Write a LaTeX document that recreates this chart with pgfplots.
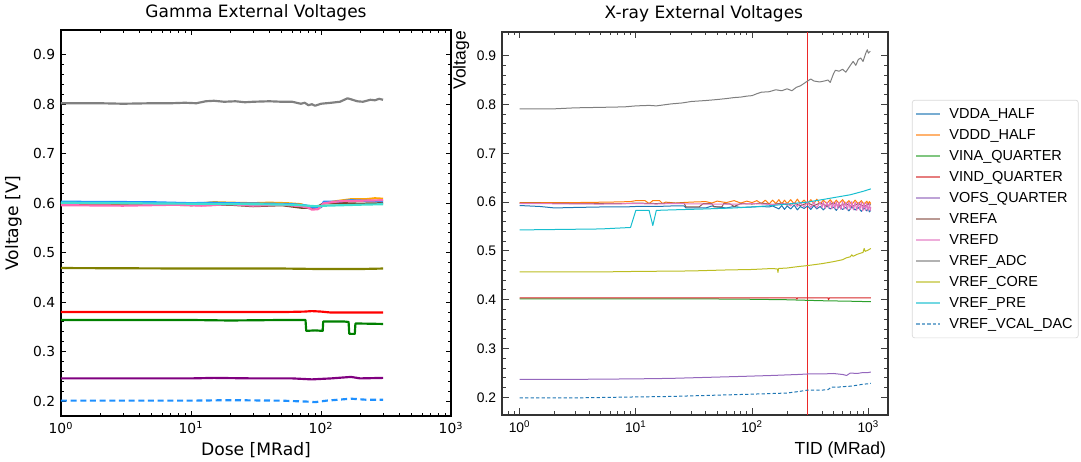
\documentclass[border=0pt]{standalone}
\usepackage{pgfplots}
\pgfplotsset{compat=1.18}
\usepackage{fontspec}
\setmainfont{DejaVu Sans}
\newfontfamily\lib{Liberation Sans}

% gamma colours
\definecolor{gGray}{RGB}{128,128,128}
\definecolor{gBlue}{RGB}{30,144,255}
\definecolor{gOrange}{RGB}{255,165,0}
\definecolor{gGreen}{RGB}{0,128,0}
\definecolor{gRed}{RGB}{255,0,0}
\definecolor{gPurple}{RGB}{128,0,128}
\definecolor{gBrown}{RGB}{120,70,40}
\definecolor{gPink}{RGB}{255,105,180}
\definecolor{gOlive}{RGB}{128,128,0}
\definecolor{gTurq}{RGB}{64,224,208}
% tab10
\definecolor{tBlue}{HTML}{1F77B4}
\definecolor{tOrange}{HTML}{FF7F0E}
\definecolor{tGreen}{HTML}{2CA02C}
\definecolor{tRed}{HTML}{D62728}
\definecolor{tPurple}{HTML}{9467BD}
\definecolor{tBrown}{HTML}{8C564B}
\definecolor{tPink}{HTML}{E377C2}
\definecolor{tGray}{HTML}{7F7F7F}
\definecolor{tOlive}{HTML}{BCBD22}
\definecolor{tCyan}{HTML}{17BECF}
\definecolor{refRed}{RGB}{235,40,40}

\begin{document}
\begin{tikzpicture}
\useasboundingbox (0,0) rectangle (648.6pt,276.6pt);

% ---------------- Gamma ----------------
\begin{axis}[
  at={(36.6pt,27pt)}, anchor=south west,
  scale only axis, width=234pt, height=231.6pt,
  xmode=log, xmin=1, xmax=1000, ymin=0.17, ymax=0.95,
  xtick={1,10,100,1000},
  xticklabels={10\textsuperscript{0},10\textsuperscript{1},10\textsuperscript{2},10\textsuperscript{3}},
  minor xtick={2,3,4,5,6,7,8,9,20,30,40,50,60,70,80,90,200,300,400,500,600,700,800,900},
  ytick={0.2,0.3,0.4,0.5,0.6,0.7,0.8,0.9},
  yticklabels={0.2,0.3,0.4,0.5,0.6,0.7,0.8,0.9},
  minor y tick num=4,
  tick align=inside,
  major tick length=3.2pt, minor tick length=1.8pt,
  every tick/.style={black, line width=0.6pt},
  axis line style={black, line width=0.9pt},
  tick label style={font=\fontsize{8.3}{10}\selectfont},
  label style={font=\fontsize{10.3}{12}\selectfont},
  title={Gamma External Voltages},
  title style={font=\fontsize{10.2}{12}\selectfont, at={(0.5,1)}, anchor=south, inner sep=0pt, yshift=-0.8pt},
  xlabel={Dose [MRad]},
  ylabel={Voltage [V]},
  xlabel style={yshift=2pt},
  every axis plot/.append style={line width=1.3pt, line join=round},
]
\addplot[gGray] coordinates {(1,0.802)(2,0.802)(3,0.801)(5,0.802)(7,0.802)(9,0.803)(11,0.802)(13,0.806)(15,0.807)(18,0.805)(22,0.806)(26,0.804)(30,0.805)(40,0.806)(50,0.805)(60,0.805)(70,0.801)(75,0.803)(80,0.798)(85,0.800)(90,0.797)(100,0.801)(120,0.803)(140,0.805)(160,0.812)(170,0.810)(190,0.806)(210,0.805)(240,0.809)(260,0.808)(280,0.811)(300,0.809)};
\addplot[gBrown] coordinates {(1,0.598)(5,0.598)(10,0.596)(20,0.597)(30,0.594)(50,0.596)(70,0.591)(90,0.590)(105,0.600)(150,0.600)(200,0.599)(300,0.600)};
\addplot[gOrange] coordinates {(1,0.600)(5,0.600)(10,0.598)(15,0.602)(20,0.601)(30,0.600)(40,0.601)(55,0.600)(70,0.598)(80,0.593)(100,0.592)(105,0.600)(130,0.604)(170,0.608)(220,0.608)(260,0.610)(300,0.609)};
\addplot[gBlue] coordinates {(1,0.603)(5,0.602)(10,0.600)(15,0.601)(20,0.600)(40,0.599)(60,0.598)(75,0.596)(90,0.591)(100,0.592)(105,0.603)(130,0.603)(170,0.606)(220,0.605)(300,0.604)};
\addplot[gPink] coordinates {(1,0.596)(3,0.595)(8,0.597)(12,0.595)(20,0.598)(30,0.595)(50,0.597)(70,0.594)(80,0.591)(85,0.587)(95,0.588)(105,0.600)(140,0.604)(200,0.605)(300,0.606)};
\addplot[gTurq] coordinates {(1,0.601)(10,0.599)(30,0.598)(60,0.597)(90,0.594)(110,0.595)(200,0.597)(300,0.598)};
\addplot[gOlive] coordinates {(1,0.469)(10,0.468)(50,0.468)(100,0.467)(200,0.467)(300,0.468)};
\addplot[gRed] coordinates {(1,0.380)(10,0.380)(50,0.380)(75,0.381)(85,0.382)(100,0.381)(120,0.379)(200,0.379)(300,0.379)};
\addplot[gGreen] coordinates {(1,0.364)(10,0.364)(20,0.363)(50,0.364)(76,0.364)(77,0.342)(90,0.343)(103,0.342)(104,0.361)(150,0.361)(163,0.360)(165,0.336)(182,0.336)(184,0.357)(300,0.356)};
\addplot[gPurple] coordinates {(1,0.246)(10,0.246)(15,0.247)(30,0.246)(60,0.246)(85,0.244)(120,0.246)(170,0.249)(200,0.246)(300,0.247)};
\addplot[gBlue, dash pattern=on 3.6pt off 2.2pt] coordinates {(1,0.201)(10,0.201)(20,0.202)(50,0.201)(80,0.199)(90,0.198)(110,0.201)(170,0.205)(220,0.203)(300,0.203)};
\end{axis}

% ---------------- X-ray ----------------
\begin{axis}[
  at={(301.2pt,27.6pt)}, anchor=south west,
  scale only axis, width=231.6pt, height=230pt,
  xmode=log, xmin=0.706, xmax=1476, ymin=0.164, ymax=0.949,
  xtick={1,10,100,1000},
  xticklabels={10\textsuperscript{0},10\textsuperscript{1},10\textsuperscript{2},10\textsuperscript{3}},
  minor xtick={0.8,0.9,2,3,4,5,6,7,8,9,20,30,40,50,60,70,80,90,200,400,500,600,700,800,900},
  extra x ticks={300},
  extra x tick labels={},
  extra x tick style={grid=major, major grid style={draw=refRed, line width=0.85pt}, major tick length=0pt},
  ytick={0.2,0.3,0.4,0.5,0.6,0.7,0.8,0.9},
  yticklabels={0.2,0.3,0.4,0.5,0.6,0.7,0.8,0.9},
  minor y tick num=4,
  tick align=inside,
  major tick length=4pt, minor tick length=2.2pt,
  every tick/.style={black!75, line width=0.6pt},
  axis line style={black!80, line width=1.1pt},
  tick label style={font=\lib\fontsize{8.3}{10}\selectfont},
  label style={font=\lib\fontsize{10.5}{12}\selectfont},
  title={X-ray External Voltages},
  title style={font=\fontsize{10.2}{12}\selectfont, at={(0.523,1)}, anchor=south, inner sep=0pt, yshift=-0.6pt},
  xlabel={TID (MRad)},
  ylabel={Voltage},
  xlabel style={at={(ticklabel cs:1)}, anchor=north east, inner sep=1pt, yshift=-1pt},
  ylabel style={at={(ticklabel cs:1)}, anchor=south east, inner sep=1pt, xshift=1.5pt},
  every axis plot/.append style={line width=0.6pt, line join=round},
  legend cell align=left,
  legend image code/.code={\draw[#1, opacity=0.6, line width=1pt] (0pt,0pt) -- (14pt,0pt);},
  legend style={at={(axis description cs:1.062,0.822)}, anchor=north west,
    font=\lib\fontsize{8.7}{10}\selectfont, draw=black!15, rounded corners=1.5pt,
    inner xsep=2pt, inner ysep=2pt,
    nodes={inner sep=1.3pt, text height=7.6pt, text depth=2.4pt},
    /tikz/every odd column/.append style={column sep=4pt}},
]
\addplot[tBlue] coordinates {(1,0.593)(1.5,0.591)(2,0.588)(3,0.589)(5,0.590)(8,0.590)(10,0.591)(15,0.591)(20,0.592)(26,0.592)(27,0.588)(40,0.588)(45,0.592)(50,0.590)(60,0.588)(70,0.591)(80,0.589)(100,0.590)(120,0.591)(140,0.590)(150,0.592)(160,0.589)(170,0.586)(180,0.593)(190,0.585)(200,0.592)(215,0.586)(230,0.594)(245,0.584)(260,0.591)(280,0.587)(300,0.592)(320,0.585)(340,0.593)(360,0.586)(385,0.591)(410,0.584)(440,0.592)(470,0.586)(500,0.590)(530,0.583)(560,0.591)(600,0.585)(640,0.589)(680,0.582)(720,0.590)(770,0.584)(820,0.589)(870,0.581)(920,0.588)(970,0.582)(1000,0.587)(1020,0.580)(1050,0.583)};
\addlegendentry{VDDA\_HALF}
\addplot[tOrange] coordinates {(1,0.599)(3,0.599)(6,0.600)(9,0.601)(10,0.603)(12,0.603)(13,0.597)(14,0.603)(16,0.603)(17,0.597)(18,0.600)(22,0.598)(25,0.599)(30,0.600)(40,0.601)(45,0.598)(50,0.602)(60,0.599)(70,0.603)(80,0.598)(90,0.602)(100,0.599)(110,0.603)(120,0.597)(130,0.604)(140,0.596)(150,0.604)(160,0.597)(170,0.605)(180,0.596)(190,0.604)(200,0.597)(215,0.605)(230,0.596)(245,0.606)(260,0.597)(280,0.604)(300,0.596)(320,0.605)(340,0.597)(360,0.606)(385,0.596)(410,0.604)(440,0.597)(470,0.605)(500,0.596)(530,0.604)(560,0.597)(600,0.605)(640,0.596)(680,0.603)(720,0.595)(770,0.604)(820,0.596)(870,0.603)(920,0.595)(970,0.602)(1000,0.596)(1020,0.601)(1050,0.597)};
\addlegendentry{VDDD\_HALF}
\addplot[tGreen] coordinates {(1,0.402)(30,0.402)(100,0.401)(200,0.400)(400,0.398)(700,0.397)(1050,0.396)};
\addlegendentry{VINA\_QUARTER}
\addplot[tRed] coordinates {(1,0.404)(100,0.404)(240,0.404)(243,0.401)(246,0.404)(450,0.404)(455,0.400)(462,0.404)(1050,0.404)};
\addlegendentry{VIND\_QUARTER}
\addplot[tPurple] coordinates {(1,0.237)(3,0.237)(10,0.238)(20,0.239)(40,0.241)(80,0.243)(150,0.245)(250,0.247)(300,0.248)(400,0.248)(500,0.249)(600,0.247)(650,0.245)(700,0.250)(800,0.249)(900,0.251)(1000,0.251)(1050,0.252)};
\addlegendentry{VOFS\_QUARTER}
\addplot[tBrown] coordinates {(1,0.598)(3,0.597)(8,0.597)(10,0.598)(15,0.597)(20,0.598)(26,0.598)(27,0.590)(35,0.590)(38,0.597)(45,0.597)(47,0.590)(55,0.590)(57,0.597)(65,0.596)(70,0.591)(80,0.597)(100,0.596)(120,0.598)(150,0.595)(180,0.598)(200,0.594)(230,0.598)(260,0.593)(300,0.598)(340,0.593)(385,0.598)(440,0.592)(500,0.598)(560,0.592)(640,0.597)(720,0.591)(820,0.597)(920,0.591)(1000,0.596)(1050,0.594)};
\addlegendentry{VREFA}
\addplot[tPink] coordinates {(1,0.597)(5,0.596)(10,0.597)(15,0.596)(20,0.597)(40,0.596)(80,0.596)(100,0.597)(150,0.595)(200,0.597)(215,0.592)(230,0.599)(245,0.591)(260,0.599)(280,0.590)(300,0.600)(320,0.589)(340,0.600)(360,0.588)(385,0.600)(400,0.589)(410,0.601)(425,0.587)(440,0.600)(455,0.588)(470,0.601)(485,0.586)(500,0.600)(515,0.587)(530,0.601)(545,0.586)(560,0.600)(580,0.585)(600,0.601)(620,0.586)(640,0.600)(660,0.584)(680,0.600)(700,0.585)(720,0.601)(745,0.584)(770,0.600)(795,0.583)(820,0.599)(845,0.584)(870,0.600)(895,0.582)(920,0.599)(945,0.583)(970,0.598)(995,0.582)(1020,0.597)(1040,0.583)(1050,0.590)};
\addlegendentry{VREFD}
\addplot[tGray] coordinates {(1,0.791)(2,0.791)(3,0.793)(5,0.794)(8,0.795)(10,0.797)(13,0.798)(15,0.797)(20,0.801)(25,0.803)(30,0.806)(40,0.808)(50,0.810)(60,0.812)(70,0.814)(80,0.815)(90,0.817)(100,0.818)(110,0.822)(120,0.825)(140,0.826)(160,0.830)(180,0.828)(200,0.832)(220,0.828)(240,0.835)(260,0.838)(280,0.843)(300,0.848)(320,0.852)(340,0.848)(380,0.846)(420,0.848)(450,0.850)(470,0.845)(500,0.862)(520,0.870)(560,0.868)(600,0.872)(640,0.866)(700,0.880)(740,0.888)(780,0.880)(820,0.892)(860,0.895)(900,0.888)(950,0.905)(980,0.912)(1000,0.905)(1040,0.909)};
\addlegendentry{VREF\_ADC}
\addplot[tOlive] coordinates {(1,0.457)(5,0.457)(10,0.458)(30,0.459)(60,0.461)(100,0.462)(150,0.464)(165,0.463)(167,0.456)(169,0.464)(200,0.465)(250,0.468)(300,0.470)(400,0.474)(500,0.478)(600,0.482)(650,0.486)(700,0.488)(720,0.492)(740,0.489)(800,0.493)(900,0.497)(920,0.505)(940,0.499)(1000,0.502)(1050,0.505)};
\addlegendentry{VREF\_CORE}
\addplot[tCyan] coordinates {(1,0.543)(5,0.545)(9,0.548)(10,0.583)(13,0.583)(14,0.552)(15,0.583)(20,0.584)(40,0.586)(70,0.588)(100,0.590)(150,0.593)(200,0.596)(300,0.600)(400,0.605)(500,0.609)(700,0.615)(900,0.622)(1050,0.627)};
\addlegendentry{VREF\_PRE}
\addplot[tBlue, dash pattern=on 2pt off 1.3pt] coordinates {(1,0.199)(3,0.199)(10,0.201)(20,0.202)(40,0.204)(80,0.206)(150,0.208)(200,0.209)(250,0.212)(300,0.215)(400,0.215)(450,0.216)(480,0.221)(550,0.221)(600,0.222)(700,0.223)(800,0.225)(900,0.227)(1000,0.228)(1050,0.229)};
\addlegendentry{VREF\_VCAL\_DAC}
\end{axis}
\end{tikzpicture}
\end{document}
